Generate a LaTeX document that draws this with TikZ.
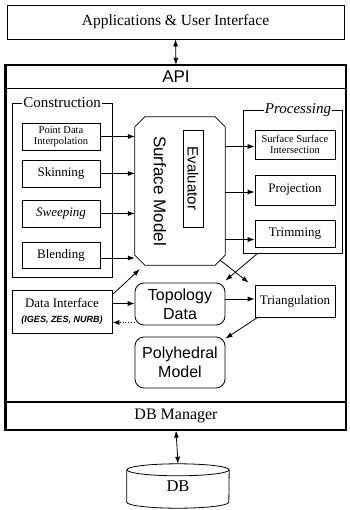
\documentclass[tikz,border=0pt]{standalone}
\usepackage{fontspec}
\setmainfont{Liberation Serif}
\setsansfont{Liberation Sans}
\usetikzlibrary{arrows.meta}
\begin{document}
\begin{tikzpicture}[x=1pt,y=-1pt,font=\fontsize{13}{14}\selectfont]
       \tikzstyle{box}=[draw,thick,inner sep=0pt,align=center]
       \tikzstyle{groupnode}=[draw,semithick,inner sep=0pt]
       \tikzstyle{grouplabel}=[fill=white,inner sep=1pt]
       \tikzstyle{roundnode}=[draw,thick,rounded corners=9pt,inner sep=0pt,align=center,font=\sffamily\fontsize{16}{19}\selectfont]
       \tikzstyle{link}=[-{Latex[length=7pt,width=5pt]},thick]
       \tikzstyle{both}=[{Latex[length=7pt,width=5pt]}-{Latex[length=7pt,width=5pt]},thick]
       \useasboundingbox (0,0) rectangle (349,510);
       \node[box,minimum width=337pt,minimum height=34pt,font=\fontsize{15.5}{16}\selectfont] (app) at (175.5,22) {Applications \& User Interface};
       \node[draw,line width=1.2pt,minimum width=340pt,minimum height=365pt,inner sep=0pt] (main) at (176,247.5) {};
       \draw[line width=3pt] (main.north west) -- (main.south west);
       \node[box,line width=1.2pt,minimum width=340pt,minimum height=23pt,font=\sffamily\fontsize{17}{17}\selectfont] (api) at (176,77) {API};
       \node[box,line width=1.2pt,minimum width=340pt,minimum height=28pt,font=\fontsize{16}{16}\selectfont] (dbm) at (176,416) {DB Manager};
       \node[minimum width=102pt,minimum height=44pt,inner sep=0pt,font=\fontsize{16.5}{16}\selectfont] (db) at (178,486) {DB};
       \draw[thick] ([yshift=-6pt]db.north west) -- ([yshift=6pt]db.south west)
         arc[start angle=180,end angle=360,x radius=51pt,y radius=6pt]
         -- ([yshift=-6pt]db.north east);
       \draw[thick] ([yshift=-6pt]db.north) ellipse[x radius=51pt,y radius=6pt];
       \draw[both] (app.south) -- (api.north);
       \draw[both] (dbm.south) -- (db.north);
       \node[groupnode,minimum width=100pt,minimum height=174pt] (constr) at (62,190) {};
       \node[grouplabel,font=\fontsize{15}{15}\selectfont] (constrlabel) at (62,103) {Construction};
       \node[box,minimum width=78pt,minimum height=27pt,font=\fontsize{10.5}{11}\selectfont] (pdi) at (61,136.5) {Point Data\\Interpolation};
       \node[box,minimum width=78pt,minimum height=27pt] (skin) at (61,173.5) {Skinning};
       \node[box,minimum width=78pt,minimum height=27pt,font=\itshape\fontsize{13}{14}\selectfont] (sweep) at (61,213.5) {Sweeping};
       \node[box,minimum width=78pt,minimum height=26pt] (blend) at (61,255) {Blending};
       \node[minimum width=90pt,minimum height=148pt,inner sep=0pt] (surf) at (180,191) {};
       \draw[thick] ([xshift=10pt]surf.north west) -- ([xshift=-10pt]surf.north east)
         -- ([yshift=-10pt]surf.north east) -- ([yshift=10pt]surf.south east)
         -- ([xshift=-10pt]surf.south east) -- ([xshift=10pt]surf.south west)
         -- ([yshift=10pt]surf.south west) -- ([yshift=-10pt]surf.north west) -- cycle;
       \node[rotate=-90,font=\sffamily\fontsize{17}{17}\selectfont] (surflabel) at (160,191) {Surface Model};
       \node[box,minimum width=20pt,minimum height=97pt] (eval) at (193,178.5) {};
       \node[rotate=-90,font=\sffamily\fontsize{15}{15}\selectfont] (evallabel) at (eval.center) {Evaluator};
       \node[groupnode,minimum width=99pt,minimum height=143pt] (proc) at (292.5,181.5) {};
       \node[grouplabel,font=\itshape\fontsize{15}{15}\selectfont] (proclabel) at (298,110) {Processing};
       \node[box,minimum width=80pt,minimum height=29pt,font=\fontsize{10.5}{11}\selectfont] (ssi) at (295,144.5) {Surface Surface\\Intersection};
       \node[box,minimum width=80pt,minimum height=30pt] (proj) at (295,190) {Projection};
       \node[box,minimum width=80pt,minimum height=27pt] (trim) at (295,233.5) {Trimming};
       \node[box,minimum width=100pt,minimum height=43pt] (di) at (62,311.5) {Data Interface\\[1pt]{\sffamily\bfseries\itshape\fontsize{9}{10}\selectfont (IGES, ZES, NURB)}};
       \node[roundnode,minimum width=90pt,minimum height=42pt] (topo) at (180,304) {Topology\\Data};
       \node[box,minimum width=80pt,minimum height=32pt] (tri) at (295,301) {Triangulation};
       \node[roundnode,minimum width=90pt,minimum height=51pt] (poly) at (180,362.5) {Polyhedral\\Model};
       \draw[link] (pdi.east) -- (pdi.east -| surf.west);
       \draw[link] (skin.east) -- (skin.east -| surf.west);
       \draw[link] (sweep.east) -- (sweep.east -| surf.west);
       \draw[link] ([yshift=-3pt]blend.east) -- ([yshift=-3pt]blend.east -| surf.west);
       \draw[link] ([yshift=-2pt]ssi.west -| surf.east) -- ([yshift=-2pt]ssi.west);
       \draw[link] ([yshift=-2pt]proj.west -| surf.east) -- ([yshift=-2pt]proj.west);
       \draw[link] ([yshift=-6pt]trim.west -| surf.east) -- ([yshift=-6pt]trim.west);
       \draw[link] ([xshift=-5pt,yshift=5pt]surf.south east) -- ([xshift=-6pt,yshift=2pt]tri.north west);
       \draw[link] ([xshift=15pt]proc.south west) -- ([yshift=2pt]topo.north east);
       \draw[link] ([yshift=-5pt]di.north east) -- ([xshift=5pt,yshift=-4pt]surf.south west);
       \draw[link] ([yshift=8pt]di.east) -- ([yshift=8pt]di.east -| topo.west);
       \draw[link,dotted] ([yshift=-11pt]di.east -| topo.west) -- ([yshift=-11pt]di.east);
       \draw[link] ([yshift=5pt]topo.east) -- ([yshift=5pt]topo.east -| tri.west);
       \draw[link] ([xshift=3pt]tri.south west) -- ([yshift=-2pt]poly.north east);
      \end{tikzpicture}
\end{document}
